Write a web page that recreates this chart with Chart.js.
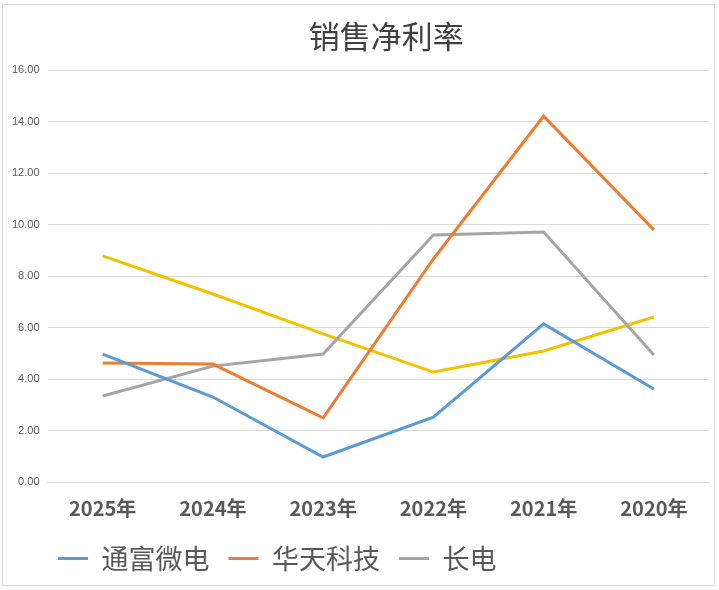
<!DOCTYPE html>
<html>
<head>
<meta charset="utf-8">
<script src="https://cdn.jsdelivr.net/npm/chart.js@4.4.0/dist/chart.umd.min.js"></script>
<style>
    html, body { margin: 0; padding: 0; background: #fff; }
    #wrap { position: relative; width: 719px; height: 590px; }
    #frame { position: absolute; left: 2px; top: 4px; width: 711px; height: 580px; border: 1px solid #d9d9d9; pointer-events: none; }
</style>
</head>
<body>
<div id="wrap">
    <canvas id="lineGraph" width="719" height="590"></canvas>
    <div id="frame"></div>
</div>
<script>
// 年份 (x 轴)
var anos = ['2025年', '2024年', '2023年', '2022年', '2021年', '2020年'];
// 各公司 销售净利率
var tongfu = [4.97, 3.30, 0.97, 2.52, 6.14, 3.61];
var huatian = [4.62, 4.58, 2.49, 8.66, 14.21, 9.79];
var changdian = [3.34, 4.50, 4.97, 9.59, 9.71, 4.93];
var quarta = [8.78, 7.30, 5.75, 4.27, 5.09, 6.41];
var eixoY = { min: 0, max: 16, passo: 2 };
var titulo = '销售净利率';

function serie(nome, valores, cor) {
    return {
        label: nome,
        data: valores,
        borderColor: cor,
        backgroundColor: cor,
        borderWidth: 3,
        pointRadius: 0,
        tension: 0,
        fill: false
    };
}

// título centrado sobre a área do gráfico, legenda deslocada
var ajustes = {
    id: 'ajustes',
    afterLayout: function (chart) {
        var lg = chart.legend;
        var dx = 35, dy = -8;
        lg.left += dx;
        lg.right += dx;
        lg.top += dy;
        lg.bottom += dy;
    },
    afterDraw: function (chart) {
        var ctx = chart.ctx;
        var a = chart.chartArea;
        ctx.save();
        ctx.fillStyle = '#404040';
        ctx.font = 'normal 31px "Noto Sans CJK SC"';
        ctx.textAlign = 'center';
        ctx.textBaseline = 'middle';
        ctx.fillText(titulo, (a.left + a.right) / 2 + 8, 36);
        ctx.restore();
    }
};

var chartdata = {
    labels: anos,
    datasets: [
        serie('通富微电', tongfu, '#5B9BD5'),
        serie('华天科技', huatian, '#ED7D31'),
        serie('长电', changdian, '#A5A5A5'),
        serie('系列4', quarta, '#F2C200')
    ]
};

new Chart(document.getElementById('lineGraph'), {
    type: 'line',
    data: chartdata,
    plugins: [ajustes],
    options: {
        responsive: false,
        animation: false,
        layout: { padding: { left: 4, right: 10, top: 70, bottom: 0 } },
        plugins: {
            legend: {
                position: 'bottom',
                align: 'start',
                labels: {
                    usePointStyle: true,
                    pointStyleWidth: 30,
                    pointStyle: 'line',
                    color: '#595959',
                    font: { family: '"Noto Sans CJK SC"', size: 27 },
                    padding: 19,
                    filter: function (item) { return item.datasetIndex < 3; }
                }
            },
            tooltip: { enabled: false }
        },
        scales: {
            x: {
                offset: true,
                grid: { display: false, drawTicks: false },
                border: { color: '#d9d9d9' },
                ticks: {
                    color: '#595959',
                    padding: 14,
                    font: { family: '"Noto Sans CJK SC"', size: 20, weight: 'bold' }
                }
            },
            y: {
                min: eixoY.min,
                max: eixoY.max,
                grid: { color: '#d9d9d9', drawTicks: false },
                border: { display: false },
                ticks: {
                    stepSize: eixoY.passo,
                    color: '#595959',
                    padding: 8,
                    font: { family: 'Liberation Sans', size: 11 },
                    callback: function (v) { return v.toFixed(2); }
                }
            }
        }
    }
});
</script>
</body>
</html>
